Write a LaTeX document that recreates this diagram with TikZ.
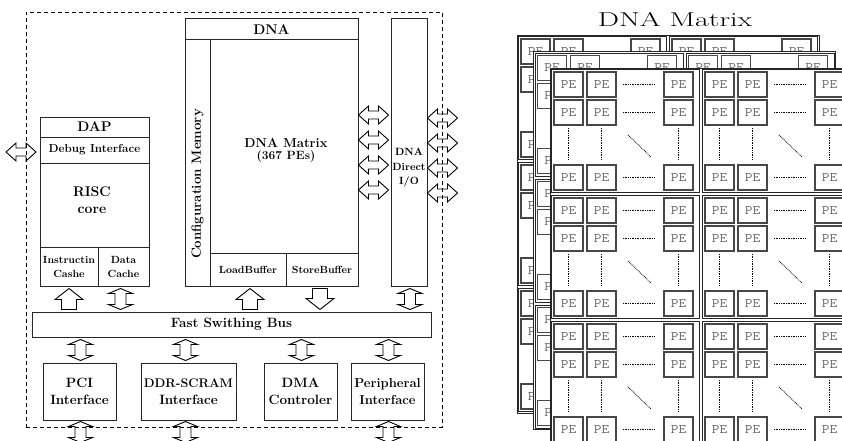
\documentclass[tikz,border=0pt]{standalone}
\usepackage{fontspec}
\usepackage{graphicx}
\usetikzlibrary{calc}
\newcommand\fs[2]{\fontsize{#1}{#2}\selectfont}
\tikzset{
 box/.style={draw=black!85, line width=1pt, inner sep=0pt, align=center, font=\bfseries},
 blk/.style={draw=black!85, line width=0.8pt},
 pe/.style={draw=black!72, line width=1.1pt, minimum width=29pt, minimum height=25pt, inner sep=0pt, text=black!60, font=\ttfamily\fs{13}{13}},
 dots/.style={line width=0.8pt, dash pattern=on 0.8pt off 0.9pt},
 arr/.style={draw=black, line width=0.9pt, line join=miter},
 uparr/.pic={\draw[arr] (0,-10.5) -- (14,0.5) -- (7.5,0.5) -- (7.5,10.5) -- (-7.5,10.5) -- (-7.5,0.5) -- (-14,0.5) -- cycle;},
 downarr/.pic={\draw[arr] (0,10.5) -- (14,-0.5) -- (7.5,-0.5) -- (7.5,-10.5) -- (-7.5,-10.5) -- (-7.5,-0.5) -- (-14,-0.5) -- cycle;},
 vdarr/.pic={\draw[arr] (0,-10.5) -- (12,-5.5) -- (5.5,-5.5) -- (5.5,5.5) -- (12,5.5) -- (0,10.5) -- (-12,5.5) -- (-5.5,5.5) -- (-5.5,-5.5) -- (-12,-5.5) -- cycle;},
 hdarr/.pic={\draw[arr] (-15,0) -- (-5,-9) -- (-5,-4) -- (5,-4) -- (5,-9) -- (15,0) -- (5,9) -- (5,4) -- (-5,4) -- (-5,9) -- cycle;},
}
% #1 id, #2 x, #3 y, #4 1 = front plane (everything visible)
\newcommand\dnaplane[4]{%
\begin{scope}[shift={(#2,#3)}]
 \fill[white] (0,0) rectangle (302,378);
 \draw[blk] (0,0) rectangle (302,378);
 \foreach \bx in {0,1}{\foreach \by in {0,1,2}{
  \begin{scope}[shift={(\bx*151,\by*126)}]
   \draw[blk] (1.5,1.5) rectangle (149.5,124.5);
   \foreach \cx [count=\i] in {18.5,51.5,128.5}{\foreach \ry [count=\j] in {16.5,44.5,109.5}{
     \pgfmathtruncatemacro\vis{(#4==1) || (\bx==0 && \i==1) || (\by==0 && \j==1)}
     \ifnum\vis=1 \node[pe] (pe#1\bx\by\i\j) at (\cx,\ry) {\scalebox{1.15}[1]{PE}};\fi}}
   \ifnum#4=1
   \foreach \ry in {16.5,44.5,109.5} \draw[dots] (73,\ry) -- (104,\ry);
   \foreach \cx in {18.5,51.5,128.5} \draw[dots] (\cx,60) -- (\cx,92);
   \draw[dots] (78,67) -- (101,89);
   \fi
  \end{scope}}}
\end{scope}}
\begin{document}
\begin{tikzpicture}[x=1pt,y=-1pt]
\useasboundingbox (0,0) rectangle (842,441);
\begin{scope}
\clip (0,0) rectangle (842,441);
% ---------------- left: block diagram ----------------
\node[draw=black, line width=0.9pt, dash pattern=on 4pt off 3pt, minimum width=416pt, minimum height=415pt, inner sep=0pt] (soc) at (234,219.5) {};
% DNA
\node[box, minimum width=173pt, minimum height=21pt, font=\bfseries\fs{14}{16}] (dna) at (271.5,29.5) {DNA};
\node[box, minimum width=25pt, minimum height=246pt] (cfg) at (197.5,163) {};
\node[rotate=90, font=\bfseries\fs{13.3}{15}, inner sep=0pt] (cfgtext) at (197.5,184) {Configuration Memory};
\node[box, minimum width=148pt, minimum height=213pt] (matrix) at (284,146.5) {};
\node[align=center, inner sep=0pt, font=\bfseries] (mattext) at (286,150) {{\fs{13}{15}DNA Matrix}\\{\fs{12}{15}(367 PEs)}};
\node[box, minimum width=76pt, minimum height=33pt, font=\bfseries\fs{10.4}{12}] (load) at (248,269.5) {LoadBuffer};
\node[box, minimum width=72pt, minimum height=33pt, font=\bfseries\fs{10.4}{12}] (store) at (322,269.5) {StoreBuffer};
\node[box, minimum width=36pt, minimum height=267pt] (dio) at (409,152.5) {};
\node[align=center, inner sep=0pt, font=\bfseries\fs{10.5}{14.5}] (diotext) at (409,168) {DNA\\Direct\\I/O};
% DAP
\node[box, minimum width=109pt, minimum height=20pt, font=\bfseries\fs{14}{16}] (dap) at (94.5,127) {DAP};
\node[box, minimum width=109pt, minimum height=26pt, font=\bfseries\fs{11.6}{13}] (debug) at (94.5,150) {Debug Interface};
\node[box, minimum width=109pt, minimum height=84pt] (risc) at (94.5,205) {};
\node[align=center, inner sep=0pt, font=\bfseries\fs{14}{16.5}] (risctext) at (92,200) {RISC\\core};
\node[box, minimum width=58pt, minimum height=39pt, font=\bfseries\fs{10.4}{14}] (icache) at (69,266.5) {Instructin\\Cashe};
\node[box, minimum width=51pt, minimum height=39pt, font=\bfseries\fs{10.4}{14}] (dcache) at (123.5,266.5) {Data\\Cache};
% bus and peripherals
\node[box, minimum width=399pt, minimum height=25pt, font=\bfseries\fs{13.5}{15}] (bus) at (231.5,324.5) {Fast Swithing Bus};
\node[box, minimum width=73pt, minimum height=57pt, font=\bfseries\fs{13.5}{17}] (pci) at (79.5,391.5) {PCI\\Interface};
\node[box, minimum width=95pt, minimum height=57pt, font=\bfseries\fs{13.5}{17}] (ddr) at (188.5,391.5) {{\fs{12.5}{17}DDR-SCRAM}\\Interface};
\node[box, minimum width=73pt, minimum height=57pt, font=\bfseries\fs{13.5}{17}] (dma) at (300.5,391.5) {DMA\\Controler};
\node[box, minimum width=73pt, minimum height=57pt, font=\bfseries\fs{13}{17}] (peri) at (387.5,391.5) {Peripheral\\Interface};
% block arrows
\pic (a1) at ($(icache.south)!0.5!(icache.south |- bus.north)$) {uparr};
\pic (a2) at ($(dcache.south)!0.5!(dcache.south |- bus.north)+(-3,0)$) {vdarr};
\pic (a3) at ($(load.south)!0.5!(load.south |- bus.north)+(2,0)$) {uparr};
\pic (a4) at ($(store.south)!0.5!(store.south |- bus.north)+(-2,0)$) {downarr};
\pic (a5) at ($(dio.south)!0.5!(dio.south |- bus.north)+(1,0)$) {vdarr};
\pic (b1) at ($(pci.north)!0.5!(pci.north |- bus.south)+(1,0)$) {vdarr};
\pic (b2) at ($(ddr.north)!0.5!(ddr.north |- bus.south)+(-3,0)$) {vdarr};
\pic (b3) at ($(dma.north)!0.5!(dma.north |- bus.south)+(1,0)$) {vdarr};
\pic (b4) at ($(peri.north)!0.5!(peri.north |- bus.south)+(1,0)$) {vdarr};
\pic (c1) at ($(pci.south)+(1,11.5)$) {vdarr};
\pic (c2) at ($(ddr.south)+(-3,11.5)$) {vdarr};
\pic (c3) at ($(peri.south)+(1,11.5)$) {vdarr};
\foreach \dy [count=\k] in {-31.5,-6.5,18.5,43.5} \pic (m\k) at ($(matrix.east)+(15,\dy)$) {hdarr};
\foreach \dy [count=\k] in {-34.5,-9.5,15.5,40.5} \pic (d\k) at ($(dio.east)+(15,\dy)$) {hdarr};
\pic (ext) at ($(debug.west)+(-18.5,2)$) {hdarr};
% ---------------- right: DNA matrix stack ----------------
\node[font=\fs{20}{20}, inner sep=0pt] (title) at (675,20) {\scalebox{1.5}[1]{DNA Matrix}};
\dnaplane{a}{517}{35}{0}
\dnaplane{b}{533.5}{51.5}{0}
\dnaplane{c}{550}{68}{1}
\end{scope}
\end{tikzpicture}
\end{document}
